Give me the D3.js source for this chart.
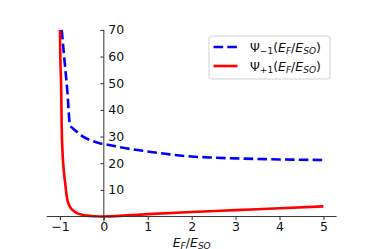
<!DOCTYPE html>
<html><head><meta charset="utf-8">
<script src="https://cdn.jsdelivr.net/npm/d3@7"></script>
<style>body{margin:0;background:#fff}svg{display:block}text{font-family:"DejaVu Sans",sans-serif}</style>
</head><body><div id="c"></div>
<script>
const xTicks=[-1,0,1,2,3,4,5];
const yTicks=[10,20,30,40,50,60,70];
const blueX=[-0.96,-0.9,-0.83,-0.77,-0.7,-0.615,-0.465,-0.3,-0.08,0,0.5,1,1.5,2,2.5,3,3.5,4,4.5,5];
const blueY=[70,59.3,46.8,34.3,33.0,31.8,29.9,28.6,27.4,27.2,25.6,24.4,23.3,22.5,22.1,21.8,21.6,21.4,21.3,21.2];
const redX=[-1.0,-0.99,-0.97,-0.96,-0.94,-0.92,-0.88,-0.83,-0.78,-0.75,-0.7,-0.61,-0.5,-0.39,-0.2,0,1,2,3,4,5];
const redY=[70,59,47,34,24,18.7,12.4,6.2,3.9,3.1,2.3,1.3,0.7,0.35,0.1,0,0.9,1.7,2.4,3.1,3.8];

const W=374,H=249;
const svg=d3.select('#c').append('svg').attr('width',W).attr('height',H);
const x=d3.scaleLinear().domain([-1.3,5.3]).range([46.75,336.6]);
const y=d3.scaleLinear().domain([-1.9,70]).range([221.6,29.9]);

const line=d3.line().x(d=>x(d[0])).y(d=>y(d[1])).curve(d3.curveMonotoneX);
svg.append('path').datum(blueX.map((v,i)=>[v,blueY[i]])).attr('d',line)
 .attr('fill','none').attr('stroke','#0000ff').attr('stroke-width',2.6).attr('stroke-dasharray','9.6,4.2');
svg.append('path').datum(redX.map((v,i)=>[v,redY[i]])).attr('d',line)
 .attr('fill','none').attr('stroke','#ff0000').attr('stroke-width',2.6);

// x axis at y=0
const gx=svg.append('g').attr('transform',`translate(0,${y(0)})`)
 .call(d3.axisBottom(x).tickValues(xTicks).tickSize(3.5).tickSizeOuter(0).tickFormat(d=>d<0?'\u2212'+Math.abs(d):d));
gx.select('.domain').attr('d',`M${x(-1.3)},0H${x(5.3)}`);
// y axis at x=0
const gy=svg.append('g').attr('transform',`translate(${x(0)},0)`)
 .call(d3.axisLeft(y).tickValues(yTicks).tickSize(3.5).tickSizeOuter(0));
gy.select('.domain').attr('d',`M0,${y(70)}V${y(-1.9)}`);
gy.selectAll('.tick text').attr('x',4.5).attr('text-anchor','start');
[gx,gy].forEach(g=>{
 g.selectAll('.domain,.tick line').attr('stroke','#333').attr('stroke-width',1);
 g.selectAll('.tick text').attr('font-size',12.5).attr('font-family','DejaVu Sans').attr('fill','#111');
});
gx.selectAll('.tick text').attr('dy','0.71em').attr('y',5.5);

// x label
const xl=svg.append('text').attr('x',191.7).attr('y',246.5).attr('text-anchor','middle').attr('font-size',12.5).attr('fill','#111');
xl.append('tspan').attr('font-style','italic').text('E');
xl.append('tspan').attr('font-style','italic').attr('font-size',9).attr('dy',2).text('F');
xl.append('tspan').attr('dy',-2).text('/');
xl.append('tspan').attr('font-style','italic').text('E');
xl.append('tspan').attr('font-style','italic').attr('font-size',9).attr('dy',2).text('SO');

// legend
const lg=svg.append('g');
lg.append('rect').attr('x',209).attr('y',36).attr('width',121).attr('height',43).attr('rx',2.5)
 .attr('fill','#fff').attr('fill-opacity',0.8).attr('stroke','#d0d0d0').attr('stroke-width',1);
const items=[{c:'#0000ff',dash:'9.6,4.2',sub:'\u22121',yy:47},{c:'#ff0000',dash:null,sub:'+1',yy:66}];
items.forEach(it=>{
 lg.append('line').attr('x1',213.5).attr('x2',237.5).attr('y1',it.yy).attr('y2',it.yy)
  .attr('stroke',it.c).attr('stroke-width',2.6).attr('stroke-dasharray',it.dash);
 const t=lg.append('text').attr('x',250).attr('y',it.yy+4.5).attr('font-size',12.5).attr('fill','#111');
 t.append('tspan').text('\u03a8');
 t.append('tspan').attr('font-size',9).attr('dy',2.5).text(it.sub);
 t.append('tspan').attr('dy',-2.5).text('(');
 t.append('tspan').attr('font-style','italic').text('E');
 t.append('tspan').attr('font-style','italic').attr('font-size',9).attr('dy',2.5).text('F');
 t.append('tspan').attr('dy',-2.5).text('/');
 t.append('tspan').attr('font-style','italic').text('E');
 t.append('tspan').attr('font-style','italic').attr('font-size',9).attr('dy',2.5).text('SO');
 t.append('tspan').attr('dy',-2.5).text(')');
});
</script></body></html>
